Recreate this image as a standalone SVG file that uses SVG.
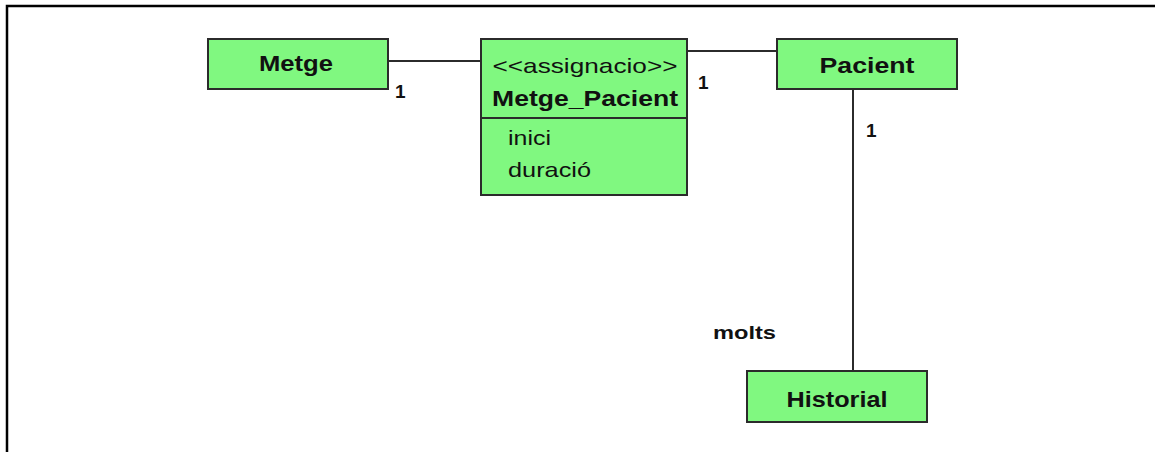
<svg xmlns="http://www.w3.org/2000/svg" width="1155" height="452" viewBox="0 0 1155 452">
  <style>
    .cls { fill: #80f880; stroke: #2b2b2b; stroke-width: 2; }
    .link { stroke: #2b2b2b; stroke-width: 2; fill: none; }
    .frame { stroke: #000; stroke-width: 2.5; fill: none; }
    text { font-family: "Liberation Sans", Arial, sans-serif; fill: #111; }
    .name { font-size: 22px; font-weight: bold; text-anchor: middle; }
    .stereo { font-size: 21px; text-anchor: middle; }
    .attr { font-size: 21px; }
    .mult { font-size: 19px; font-weight: bold; }
  </style>
  <rect width="1155" height="452" fill="#fff"/>
  <!-- outer frame: top and left edges only -->
  <path class="frame" d="M7,452 V6 H1155"/>

  <g id="connectors">
    <line class="link" x1="388" y1="61" x2="481" y2="61"/>
    <line class="link" x1="687" y1="51" x2="777" y2="51"/>
    <line class="link" x1="853" y1="89" x2="853" y2="371"/>
    <text class="mult" x="395" y="98">1</text>
    <text class="mult" x="698" y="89">1</text>
    <text class="mult" x="866" y="137">1</text>
    <text class="mult" x="713" y="339" font-size="20" textLength="63" lengthAdjust="spacingAndGlyphs">molts</text>
  </g>

  <g id="metge">
    <rect class="cls" x="208" y="39" width="180" height="50"/>
    <text class="name" x="296" y="71" textLength="74" lengthAdjust="spacingAndGlyphs">Metge</text>
  </g>

  <g id="metge_pacient">
    <rect class="cls" x="481" y="39" width="206" height="156"/>
    <line class="link" x1="481" y1="118" x2="687" y2="118"/>
    <text class="stereo" x="585" y="73" textLength="185" lengthAdjust="spacingAndGlyphs">&lt;&lt;assignacio&gt;&gt;</text>
    <text class="name" x="585" y="106" textLength="186" lengthAdjust="spacingAndGlyphs">Metge_Pacient</text>
    <text class="attr" x="508" y="145" textLength="43" lengthAdjust="spacingAndGlyphs">inici</text>
    <text class="attr" x="508" y="177" textLength="83" lengthAdjust="spacingAndGlyphs">duració</text>
  </g>

  <g id="pacient">
    <rect class="cls" x="777" y="39" width="180" height="50"/>
    <text class="name" x="867" y="73" textLength="95" lengthAdjust="spacingAndGlyphs">Pacient</text>
  </g>

  <g id="historial">
    <rect class="cls" x="747" y="371" width="180" height="51"/>
    <text class="name" x="837" y="407" textLength="101" lengthAdjust="spacingAndGlyphs">Historial</text>
  </g>
</svg>
